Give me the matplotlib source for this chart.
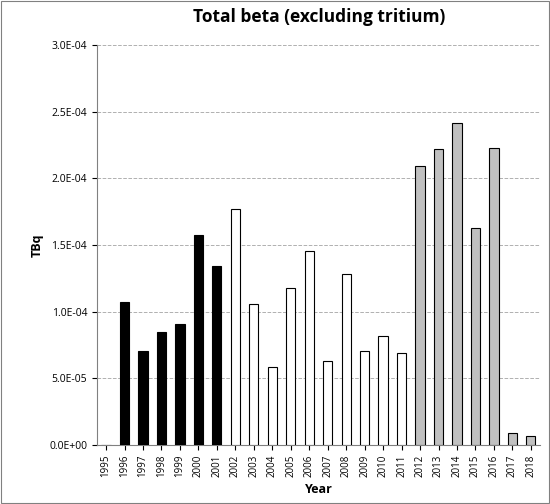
import matplotlib
matplotlib.use("Agg")
import matplotlib.pyplot as plt
from matplotlib.ticker import FuncFormatter
from matplotlib.patches import Rectangle

years = [str(y) for y in range(1995, 2019)]
values = [0.0, 1.07e-4, 0.705e-4, 0.85e-4, 0.91e-4, 1.575e-4, 1.34e-4,
          1.77e-4, 1.06e-4, 0.585e-4, 1.18e-4, 1.455e-4, 0.63e-4, 1.28e-4,
          0.705e-4, 0.82e-4, 0.69e-4,
          2.09e-4, 2.22e-4, 2.415e-4, 1.63e-4, 2.23e-4, 0.09e-4, 0.07e-4]
colors = ["black"] * 7 + ["white"] * 10 + ["#c0c0c0"] * 7

plt.rcParams["font.family"] = ["Open Sans", "DejaVu Sans"]

fig = plt.figure(figsize=(5.5, 5.04), dpi=100)
fig.patches.append(Rectangle((0.002, 0.002), 0.996, 0.996, transform=fig.transFigure,
                             fill=False, edgecolor="#808080", linewidth=0.8))
ax = fig.add_axes([0.176, 0.117, 0.806, 0.794])
x = range(len(years))
ax.bar(x, values, width=0.5, color=colors, edgecolor="black", linewidth=0.8, zorder=3)

ax.set_xlim(-0.5, len(years) - 0.5)
ax.set_ylim(0, 3.0e-4)
ax.set_yticks([i * 0.5e-4 for i in range(7)])
ax.yaxis.set_major_formatter(FuncFormatter(lambda v, p: f"{v:.1E}"))
ax.set_xticks(list(x))
ax.set_xticklabels(years, rotation=90, fontsize=7)
ax.tick_params(axis="y", labelsize=7.5)
ax.grid(axis="y", linestyle="--", color="#b0b0b0", linewidth=0.7, zorder=0)
for s in ["top", "right"]:
    ax.spines[s].set_visible(False)
ax.spines["left"].set_color("#808080")
ax.spines["bottom"].set_color("#808080")

ax.set_xlabel("Year", fontsize=9, fontweight="bold")
ax.set_ylabel("TBq", fontsize=9, fontweight="bold")
fig.suptitle("Total beta (excluding tritium)", fontsize=12.5, fontweight="bold", x=0.58, y=0.985)

fig.savefig("out.png", dpi=100)
